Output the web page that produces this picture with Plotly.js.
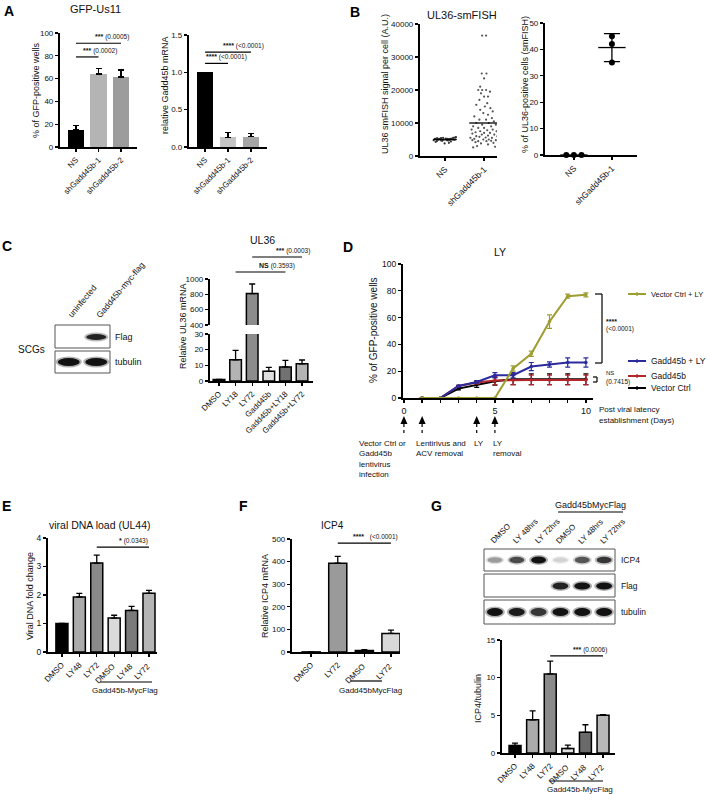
<!DOCTYPE html>
<html><head><meta charset="utf-8">
<script src="https://cdn.plot.ly/plotly-3.0.1.min.js"></script>
<style>html,body{margin:0;padding:0;background:#fff}#chart{width:709px;height:794px}</style>
</head><body><div id="chart"></div>
<script>
// ---------------- DATA ----------------
const aCats = ['NS', 'shGadd45b-1', 'shGadd45b-2'];
const aGfpVals = [15, 64, 61.5];
const aGfpErr = [4, 5, 6];
const aMrnaVals = [1.0, 0.13, 0.14];
const aMrnaErr = [0, 0.06, 0.045];

const bCats = ['NS', 'shGadd45b-1'];
const bNsY = [5200,4900,5400,5000,4700,5100,5600,4500,5300,5000,4800,5200,5500,4300,5100,4900,5300,4000,5000,5700,4800,5100,4600,5200,5000,4900,5400,3800,5100,5300,4700,5000,5200,4900,5500,4400,5000,5100];
const bNsX = [-0.26,-0.18,-0.1,0.0,0.08,0.16,0.25,-0.21,-0.12,-0.04,0.05,0.13,0.21,-0.24,-0.14,-0.06,0.02,0.1,0.19,0.28,-0.29,-0.16,-0.07,0.06,0.14,0.23,-0.2,-0.01,0.09,0.18,-0.1,0.03,-0.23,0.12,-0.05,0.15,0.26,-0.13];
const bShY = [36500,36500,25000,25000,23500,21000,20000,20000,20000,19500,19000,18000,18000,17000,16000,15500,15000,14500,14000,13500,13000,12500,12000,11500,11000,11000,10500,10000,10000,9500,9500,9000,9000,8500,8500,8000,8000,7800,7500,7500,7200,7000,7000,6800,6500,6500,6200,6000,6000,5800,5600,5500,5500,5200,5000,5000,4800,4800,4600,4500,4500,4300,4200,4000,3800,3500,3000,2600,2800,4700];
const bShX = [-0.05,0.05,-0.06,0.06,0.0,-0.1,-0.15,-0.05,0.05,0.15,-0.08,0.0,0.1,-0.12,0.08,-0.2,0.02,0.16,-0.1,0.22,-0.02,0.1,-0.25,0.2,-0.12,0.05,0.25,-0.2,0.12,-0.05,0.3,-0.28,0.18,0.0,-0.15,0.22,-0.32,0.08,-0.1,0.32,-0.22,0.15,0.0,-0.3,0.26,-0.06,0.1,-0.2,0.34,-0.12,0.04,-0.35,0.2,-0.25,0.12,-0.02,0.3,-0.3,0.18,-0.15,0.06,0.36,-0.22,0.24,-0.08,0.1,-0.18,-0.28,0.28,0.38];
const bSmfishMean = [5000, 10000];
const bPosNsX = [-0.2, 0, 0.2];
const bPosNsY = [0, 0, 0];
const bPosShX = [1, 1, 1];
const bPosShY = [45, 42, 35];
const bPosMean = [0, 40.7];
const bPosSd = [0, 5.3];

const cCats = ['DMSO', 'LY18', 'LY72', 'Gadd45b', 'Gadd45b+LY18', 'Gadd45b+LY72'];
const cVals = [1, 13.5, 810, 6.2, 9, 11];
const cErr = [0, 6, 125, 2.5, 4.2, 2.4];
const cBlotLanes = ['uninfected', 'Gadd45b-myc-flag'];
const cBlotFlag = [0, 0.9];
const cBlotTub = [1, 1];

const dDays = [1,2,3,4,5,6,7,8,9,10];
const dVecLY = [0,0,0,0,0,22,33,57,76,77];
const dVecLYErr = [0,0,0,0,0,2,2,5,1.5,1.5];
const dGaddLY = [0,0,9,12,17,17,23.5,25,26.5,26.5];
const dGaddLYErr = [0,0,0.5,1,2,2,3,2,3.5,3.5];
const dGadd = [0,0,9,11.5,13,13.5,13.5,13.5,13.5,13.5];
const dGaddErr = [0,0,0.5,1,3,3.5,3.5,3.5,3.5,3.5];
const dVec = [0,0,7,10,12.5,14,14,14,14,14];
const dVecErr = [0,0,1,2,3,4,4,4,4,4];
const dEventDays = [0, 1, 4, 5];
const dEventLabels = ['Vector Ctrl or<br>Gadd45b<br>lentivirus<br>infection', 'Lentirivus and<br>ACV removal', 'LY', 'LY<br>removal'];

const eCats = ['DMSO', 'LY48', 'LY72', 'DMSO ', 'LY48 ', 'LY72 '];
const eVals = [1.0, 1.93, 3.12, 1.19, 1.46, 2.06];
const eErr = [0, 0.13, 0.28, 0.1, 0.14, 0.1];

const fCats = ['DMSO', 'LY72', 'DMSO ', 'LY72 '];
const fVals = [0.5, 393, 7, 82];
const fErr = [0, 30, 3, 15];

const gCats = ['DMSO', 'LY48', 'LY72', 'DMSO ', 'LY48 ', 'LY72 '];
const gVals = [1.0, 4.4, 10.5, 0.6, 2.75, 5.0];
const gErr = [0.3, 1.2, 1.7, 0.45, 1.0, 0.1];
const gBlotLanes = ['DMSO', 'LY 48hrs', 'LY 72hrs', 'DMSO', 'LY 48hrs', 'LY 72hrs'];
const gBlotICP4 = [0.35, 0.7, 1.0, 0.15, 0.65, 0.8];
const gBlotFlag = [0, 0, 0, 0.9, 1, 1];
const gBlotTub = [1, 0.95, 0.8, 1, 1, 1];

// ---------------- LAYOUT HELPERS ----------------
const W = 709, H = 794;
const FONT = '"Liberation Sans", Arial, Helvetica, sans-serif';
const spec = {
  A1: {x0:60, x1:137, r:[-0.71,2.71], yt:33, yb:147, yr:[0,100]},
  A2: {x0:189, x1:267, r:[-0.7,2.7], yt:35, yb:147, yr:[0,1.5]},
  B1: {x0:420, x1:497, r:[-0.64,1.33], yt:24, yb:156, yr:[0,40000]},
  B2: {x0:545, x1:637, r:[-0.76,1.66], yt:23, yb:155, yr:[0,50]},
  CT: {x0:210, x1:313, r:[-0.54,5.66], yt:279, yb:325, yr:[400,1000]},
  CB: {x0:210, x1:313, r:[-0.54,5.66], yt:334, yb:381, yr:[0,30]},
  D:  {x0:403, x1:593, r:[-0.05,10.39], yt:264, yb:398, yr:[0,100]},
  E:  {x0:48, x1:157, r:[-0.8,5.46], yt:538, yb:652, yr:[0,4]},
  F:  {x0:292, x1:400, r:[-0.72,3.34], yt:539, yb:652, yr:[0,500]},
  G:  {x0:502, x1:615, r:[-0.74,5.68], yt:640, yb:753, yr:[0,15]}
};
function catPx(s, i) { return s.x0 + (i - s.r[0]) / (s.r[1] - s.r[0]) * (s.x1 - s.x0); }
function valPx(s, v) { return s.yb - (v - s.yr[0]) / (s.yr[1] - s.yr[0]) * (s.yb - s.yt); }
function xdom(s) { return [s.x0 / W, s.x1 / W]; }
function ydom(s) { return [1 - s.yb / H, 1 - s.yt / H]; }

function axisBase(extra) {
  return Object.assign({
    showline: true, linecolor: '#000', linewidth: 1.6, ticks: 'outside', ticklen: 3.5,
    tickwidth: 1.3, tickcolor: '#000', showgrid: false, zeroline: false, fixedrange: true,
    tickfont: {size: 8, family: FONT, color: '#111'}
  }, extra);
}
function xCat(s, anchor, extra) {
  return axisBase(Object.assign({domain: xdom(s), range: s.r, type: 'category', tickangle: -45, anchor: anchor}, extra || {}));
}
function yLin(s, anchor, extra) {
  return axisBase(Object.assign({domain: ydom(s), range: s.yr, anchor: anchor}, extra || {}));
}

const annotations = [];
const shapes = [];
function T(x, y, text, o) {
  o = o || {};
  const font = Object.assign({family: FONT, size: 9, color: '#111'}, o.font || {});
  const a = Object.assign({xref: 'paper', yref: 'paper', x: x / W, y: 1 - y / H, text: text, showarrow: false,
    xanchor: 'center', yanchor: 'middle', borderpad: 0}, o);
  a.font = font;
  annotations.push(a);
}
function L(x0, y0, x1, y1, o) {
  shapes.push(Object.assign({type: 'line', xref: 'paper', yref: 'paper', x0: x0 / W, y0: 1 - y0 / H, x1: x1 / W, y1: 1 - y1 / H,
    line: {color: '#000', width: 1.2}}, o || {}));
}
function R(x0, y0, x1, y1, o) {
  shapes.push(Object.assign({type: 'rect', xref: 'paper', yref: 'paper', x0: x0 / W, y0: 1 - y0 / H, x1: x1 / W, y1: 1 - y1 / H,
    line: {color: '#555', width: 1}, fillcolor: 'rgba(0,0,0,0)'}, o || {}));
}
function band(cx, cy, w, h, a) {
  if (a <= 0) return;
  shapes.push({type: 'circle', xref: 'paper', yref: 'paper', x0: (cx - w / 2 - 2) / W, x1: (cx + w / 2 + 2) / W,
    y0: 1 - (cy + h / 2 + 1.5) / H, y1: 1 - (cy - h / 2 - 1.5) / H, line: {width: 0}, fillcolor: 'rgba(0,0,0,' + (0.3 * a).toFixed(3) + ')'});
  shapes.push({type: 'circle', xref: 'paper', yref: 'paper', x0: (cx - w / 2) / W, x1: (cx + w / 2) / W,
    y0: 1 - (cy + h / 2) / H, y1: 1 - (cy - h / 2) / H, line: {width: 0}, fillcolor: 'rgba(0,0,0,' + (0.9 * a).toFixed(3) + ')'});
}
function sig(s, i0, i1, v, stars, p, shift, gap) {
  const y = valPx(s, v);
  const xa = catPx(s, i0), xb = catPx(s, i1);
  L(xa, y, xb, y, {line: {color: '#000', width: 1.2}});
  T((xa + xb) / 2 + (shift || -5), y - 1, '<b>' + stars + '</b>' + (gap || ' ') + '<span style="font-size:6.5px">' + p + '</span>',
    {xanchor: 'left', yanchor: 'bottom', font: {size: 7}});
}
function zeros(a) { return a.map(function () { return 0; }); }

function barTrace(cats, vals, errs, colors, xa, ya, width, lw) {
  return {type: 'bar', x: cats, y: vals, xaxis: xa, yaxis: ya, width: width,
    marker: {color: colors, line: {color: '#000', width: lw}},
    error_y: {type: 'data', array: errs, arrayminus: zeros(errs), symmetric: false, color: '#000', thickness: 1.3, width: 3},
    showlegend: false, hoverinfo: 'skip'};
}

const traces = [];
// ---- A ----
traces.push(barTrace(aCats, aGfpVals, aGfpErr, ['#000000', '#b4b4b4', '#9c9c9c'], 'x', 'y', 0.75, 0));
traces.push(barTrace(aCats, aMrnaVals, aMrnaErr, ['#000000', '#c4c4c4', '#a6a6a6'], 'x2', 'y2', 0.72, 0));
// ---- B ----
traces.push({type: 'scatter', mode: 'markers', x: bNsX, y: bNsY, xaxis: 'x3', yaxis: 'y3',
  marker: {size: 2.2, color: '#333'}, showlegend: false, hoverinfo: 'skip'});
traces.push({type: 'scatter', mode: 'markers', x: bShX.map(function (v) { return 1 + v; }), y: bShY, xaxis: 'x3', yaxis: 'y3',
  marker: {size: 2.2, color: '#555'}, showlegend: false, hoverinfo: 'skip'});
bSmfishMean.forEach(function (m, i) {
  const hw = i === 0 ? 0.3 : 0.38;
  traces.push({type: 'scatter', mode: 'lines', x: [i - hw, i + hw], y: [m, m], xaxis: 'x3', yaxis: 'y3',
    line: {color: '#000', width: 1.3}, showlegend: false, hoverinfo: 'skip'});
});
traces.push({type: 'scatter', mode: 'markers', x: bPosNsX, y: bPosNsY, xaxis: 'x4', yaxis: 'y4', cliponaxis: false,
  marker: {size: 6, color: '#000'}, showlegend: false, hoverinfo: 'skip'});
traces.push({type: 'scatter', mode: 'markers', x: bPosShX, y: bPosShY, xaxis: 'x4', yaxis: 'y4',
  marker: {size: 6, color: '#000'}, showlegend: false, hoverinfo: 'skip'});
bPosMean.forEach(function (m, i) {
  traces.push({type: 'scatter', mode: 'lines', x: [i - 0.36, i + 0.36], y: [m, m], xaxis: 'x4', yaxis: 'y4', cliponaxis: false,
    line: {color: '#000', width: 1.3}, showlegend: false, hoverinfo: 'skip'});
});
traces.push({type: 'scatter', mode: 'markers', x: [1], y: [bPosMean[1]], xaxis: 'x4', yaxis: 'y4',
  marker: {size: 0.1, color: 'rgba(0,0,0,0)'}, error_y: {type: 'data', array: [bPosSd[1]], color: '#000', thickness: 1.3, width: 8},
  showlegend: false, hoverinfo: 'skip'});
// ---- C ----
const cColors = ['#000000', '#b3b3b3', '#8c8c8c', '#dedede', '#727272', '#b3b3b3'];
traces.push(barTrace(cCats, cVals, cErr.map(function (e, i) { return cVals[i] > 400 ? e : 0; }), cColors, 'x5', 'y5', 0.7, 1.5));
traces.push(barTrace(cCats, cVals, cErr.map(function (e, i) { return cVals[i] > 30 ? 0 : e; }), cColors, 'x5', 'y6', 0.7, 1.5));
// ---- D ----
const dSeries = [
  {y: dVec, e: dVecErr, c: '#000000'},
  {y: dGadd, e: dGaddErr, c: '#b4252c'},
  {y: dGaddLY, e: dGaddLYErr, c: '#2b2b9e'},
  {y: dVecLY, e: dVecLYErr, c: '#9d9d30'}
];
dSeries.forEach(function (s) {
  traces.push({type: 'scatter', mode: 'lines+markers', x: dDays, y: s.y, xaxis: 'x6', yaxis: 'y7', cliponaxis: false,
    line: {color: s.c, width: 2}, marker: {color: s.c, size: 3.5},
    error_y: {type: 'data', array: s.e, color: s.c, thickness: 1.2, width: 2.5}, showlegend: false, hoverinfo: 'skip'});
});
// ---- E, F, G ----
traces.push(barTrace(eCats, eVals, eErr, ['#000000', '#ababab', '#8a8a8a', '#dadada', '#7a7a7a', '#b5b5b5'], 'x7', 'y8', 0.69, 1.5));
traces.push(barTrace(fCats, fVals, fErr, ['#000000', '#9a9a9a', '#bdbdbd', '#d8d8d8'], 'x8', 'y9', 0.68, 1.5));
traces.push(barTrace(gCats, gVals, gErr, ['#000000', '#ababab', '#8a8a8a', '#e0e0e0', '#6a6a6a', '#b8b8b8'], 'x9', 'y10', 0.68, 1.5));

// ---------------- AXES ----------------
const layout = {
  width: W, height: 794, margin: {l: 0, r: 0, t: 0, b: 0}, paper_bgcolor: '#fff', plot_bgcolor: 'rgba(0,0,0,0)',
  showlegend: false, font: {family: FONT, color: '#111'}, bargap: 0,
  xaxis: xCat(spec.A1, 'y'), yaxis: yLin(spec.A1, 'x', {tickvals: [0, 20, 40, 60, 80, 100]}),
  xaxis2: xCat(spec.A2, 'y2'), yaxis2: yLin(spec.A2, 'x2', {tickvals: [0, 0.5, 1.0, 1.5], ticktext: ['0.0', '0.5', '1.0', '1.5']}),
  xaxis3: axisBase({domain: xdom(spec.B1), range: spec.B1.r, anchor: 'y3', tickvals: [0, 1], ticktext: bCats, tickangle: -45, tickfont: {size: 8.5, family: FONT, color: '#111'}}),
  yaxis3: yLin(spec.B1, 'x3', {tickvals: [0, 10000, 20000, 30000, 40000], tickformat: 'd'}),
  xaxis4: axisBase({domain: xdom(spec.B2), range: spec.B2.r, anchor: 'y4', tickvals: [0, 1], ticktext: bCats, tickangle: -45, tickfont: {size: 8.5, family: FONT, color: '#111'}}),
  yaxis4: yLin(spec.B2, 'x4', {tickvals: [0, 10, 20, 30, 40, 50]}),
  xaxis5: xCat(spec.CB, 'y6'),
  yaxis5: yLin(spec.CT, 'x5', {tickvals: [400, 600, 800, 1000]}),
  yaxis6: yLin(spec.CB, 'x5', {tickvals: [0, 10, 20, 30]}),
  xaxis6: axisBase({domain: xdom(spec.D), range: spec.D.r, anchor: 'y7', tickvals: [0,1,2,3,4,5,6,7,8,9,10],
    ticktext: ['0','','','','','5','','','','','10'], tickfont: {size: 9, family: FONT, color: '#111'}}),
  yaxis7: yLin(spec.D, 'x6', {tickvals: [0, 20, 40, 60, 80, 100], tickfont: {size: 8.5, family: FONT, color: '#111'}}),
  xaxis7: xCat(spec.E, 'y8'), yaxis8: yLin(spec.E, 'x7', {tickvals: [0, 1, 2, 3, 4], tickfont: {size: 8.5, family: FONT, color: '#111'}}),
  xaxis8: xCat(spec.F, 'y9'), yaxis9: yLin(spec.F, 'x8', {tickvals: [0, 100, 200, 300, 400, 500]}),
  xaxis9: xCat(spec.G, 'y10'), yaxis10: yLin(spec.G, 'x9', {tickvals: [0, 5, 10, 15]})
};

// ---------------- TEXT & DECORATIONS ----------------
const LET = {size: 14, family: FONT, color: '#000'};
T(3, 11, '<b>A</b>', {xanchor: 'left', font: LET});
T(349, 12, '<b>B</b>', {xanchor: 'left', font: LET});
T(1, 246, '<b>C</b>', {xanchor: 'left', font: LET});
T(342, 247, '<b>D</b>', {xanchor: 'left', font: LET});
T(1, 506, '<b>E</b>', {xanchor: 'left', font: LET});
T(238, 506, '<b>F</b>', {xanchor: 'left', font: LET});
T(430, 506, '<b>G</b>', {xanchor: 'left', font: LET});

// titles
T(95, 9, 'GFP-Us11', {font: {size: 11}});
T(462, 15, 'UL36-smFISH', {font: {size: 11}});
T(262, 240, 'UL36', {font: {size: 10.5}});
T(500, 252, 'LY', {font: {size: 10.5}});
T(100, 525, 'viral DNA load (UL44)', {font: {size: 10.5}});
T(332, 525, 'ICP4', {font: {size: 10}});

// y axis titles
const YT = {textangle: -90};
T(36, 90, '% of GFP-positive wells', Object.assign({font: {size: 9}}, YT));
T(165, 85, 'relative Gadd45b mRNA', Object.assign({font: {size: 9}}, YT));
T(385, 84, 'UL36 smFISH signal per cell (A.U.)', Object.assign({font: {size: 9}}, YT));
T(525, 85, '% of UL36-positive cells (smFISH)', Object.assign({font: {size: 9}}, YT));
T(183, 326, 'Relative UL36 mRNA', Object.assign({font: {size: 9}}, YT));
T(373, 330, '% of GFP-positive wells', Object.assign({font: {size: 10}}, YT));
T(30, 596, 'Viral DNA fold change', Object.assign({font: {size: 9}}, YT));
T(265, 596, 'Relative ICP4 mRNA', Object.assign({font: {size: 9}}, YT));
T(478, 698, 'ICP4/tubulin', Object.assign({font: {size: 9}}, YT));

// significance
sig(spec.A1, 0, 2, 91, '***', '(0.0005)', -4.5);
sig(spec.A1, 0, 1, 79, '***', '(0.0002)', -5);
sig(spec.A2, 0, 2, 1.27, '****', '(<0.0001)', -6);
sig(spec.A2, 0, 1, 1.12, '****', '(<0.0001)', -12);
sig(spec.CT, 2, 5, 1287, '***', '(0.0003)', -2);
sig(spec.CT, 1, 4, 1091, 'NS', '(0.3593)', -3);
sig(spec.E, 2, 5, 3.68, '*', '(0.0343)', -5);
sig(spec.F, 1, 3, 482, '****', '(<0.0001)', -12, '&nbsp;&nbsp;&nbsp;');
sig(spec.G, 2, 5, 12.9, '***', '(0.0006)', -5);

// group labels
L(catPx(spec.E, 3) - 14, 682, catPx(spec.E, 5) + 3, 682);
T(125, 690, 'Gadd45b-MycFlag', {font: {size: 8}});
L(catPx(spec.F, 2) - 14, 681, catPx(spec.F, 3) - 9, 681);
T(370, 690, 'Gadd45bMycFlag', {font: {size: 8}});
L(catPx(spec.G, 3) - 18, 781, catPx(spec.G, 5), 781);
T(580, 789, 'Gadd45b-MycFlag', {font: {size: 8}});

// C blot
R(55, 325, 110, 348);
R(55, 351, 110, 373);
cBlotLanes.forEach(function (lab, i) {
  const cx = 55 + 27.5 * (i + 0.5);
  band(cx, 337, 20, 6, cBlotFlag[i]);
  band(cx, 362, 22, 8, cBlotTub[i]);
  T(cx - 4, 321, lab, {textangle: -50, xanchor: 'left', yanchor: 'bottom', font: {size: 8.5}});
});
T(114, 337, 'Flag', {xanchor: 'left', font: {size: 9}});
T(114, 362, 'tubulin', {xanchor: 'left', font: {size: 9}});
T(31, 349, 'SCGs', {font: {size: 10}});

// G blot
R(484, 549, 615, 571);
R(484, 574, 615, 597);
R(484, 600, 615, 624);
gBlotLanes.forEach(function (lab, i) {
  const cx = 484 + (131 / 6) * (i + 0.5);
  band(cx, 560, 15, 5 + 2 * gBlotICP4[i], gBlotICP4[i]);
  band(cx, 586, 16, 7, gBlotFlag[i]);
  band(cx, 612, 16, 8, gBlotTub[i]);
  T(cx - 7, 547, lab, {textangle: -45, xanchor: 'left', yanchor: 'bottom', font: {size: 8}});
});
T(620, 560, 'ICP4', {xanchor: 'left', font: {size: 8.5}});
T(620, 586, 'Flag', {xanchor: 'left', font: {size: 8.5}});
T(620, 612, 'tubulin', {xanchor: 'left', font: {size: 8.5}});
L(558, 512, 623, 512);
T(590, 505, 'Gadd45bMycFlag', {font: {size: 9}});

// D legend
const dLegend = [
  {name: 'Vector Ctrl + LY', y: 294, c: '#9d9d30', fs: 7.5},
  {name: 'Gadd45b + LY', y: 361, c: '#2b2b9e', fs: 8.5},
  {name: 'Gadd45b', y: 376, c: '#b4252c', fs: 8.5},
  {name: 'Vector Ctrl', y: 388, c: '#000000', fs: 8.5}
];
dLegend.forEach(function (l) {
  L(628, l.y, 646, l.y, {line: {color: l.c, width: 2}});
  L(637, l.y - 2, 637, l.y + 2, {line: {color: l.c, width: 1.2}});
  T(650, l.y, l.name, {xanchor: 'left', font: {size: l.fs}});
});
// D brackets
L(595, 294, 602, 294); L(602, 294, 602, 363); L(595, 363, 602, 363);
T(605, 321, '<b>****</b>', {xanchor: 'left', font: {size: 7}});
T(605, 329, '(<0.0001)', {xanchor: 'left', font: {size: 6.5}});
L(593, 377, 597, 377); L(597, 377, 597, 382); L(593, 382, 597, 382);
T(605, 373, 'NS', {xanchor: 'left', font: {size: 6}});
T(605, 382, '(0.7415)', {xanchor: 'left', font: {size: 6.5}});
T(598, 410, 'Post viral latency', {xanchor: 'left', font: {size: 8}});
T(598, 420, 'establishment (Days)', {xanchor: 'left', font: {size: 8}});
// D event arrows
const dLabelX = [358, 415, 473, 492];
dEventDays.forEach(function (d, i) {
  const x = spec.D.x0 + (d - spec.D.r[0]) / (spec.D.r[1] - spec.D.r[0]) * (spec.D.x1 - spec.D.x0);
  shapes.push({type: 'path', xref: 'paper', yref: 'paper', line: {width: 0}, fillcolor: '#000',
    path: 'M' + ((x - 3.5) / W) + ',' + (1 - 424 / H) + ' L' + (x / W) + ',' + (1 - 416 / H) + ' L' + ((x + 3.5) / W) + ',' + (1 - 424 / H) + ' Z'});
  L(x, 424, x, 436, {line: {color: '#000', width: 1.2, dash: 'dot'}});
  T(dLabelX[i], 438, dEventLabels[i], {xanchor: 'left', yanchor: 'top', align: 'left', font: {size: 8}});
});

layout.annotations = annotations;
layout.shapes = shapes;
Plotly.newPlot('chart', traces, layout, {staticPlot: true, displayModeBar: false});
</script>
</body></html>
